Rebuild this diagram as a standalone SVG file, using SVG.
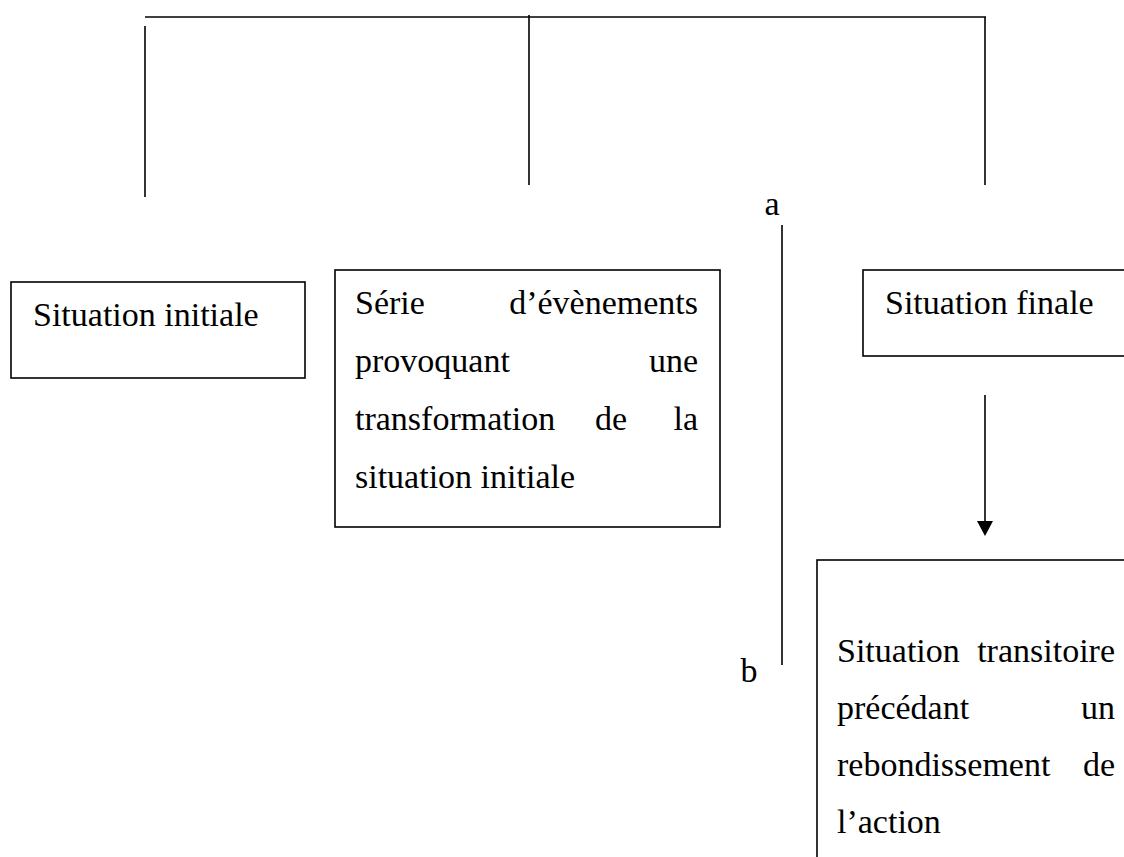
<svg xmlns="http://www.w3.org/2000/svg" width="1124" height="857" viewBox="0 0 1124 857">
  <style>
    .box { fill: #ffffff; stroke: #000000; stroke-width: 1.6; }
    .ln { stroke: #000000; stroke-width: 1.6; fill: none; }
    .t { font-family: "Liberation Serif", "Times New Roman", serif; font-size: 34px; fill: #000000; }
    .e { text-anchor: end; }
    .m { text-anchor: middle; }
  </style>
  <rect width="1124" height="857" fill="#ffffff"/>

  <g id="connectors">
    <!-- top bracket -->
    <line class="ln" x1="145" y1="17" x2="986" y2="17"/>
    <line class="ln" x1="145" y1="26" x2="145" y2="197"/>
    <line class="ln" x1="529" y1="15" x2="529" y2="185"/>
    <line class="ln" x1="985" y1="17" x2="985" y2="185"/>
    <!-- a-b span -->
    <line class="ln" x1="782" y1="225" x2="782" y2="665"/>
    <!-- arrow from final to transitory situation -->
    <line class="ln" x1="985" y1="395" x2="985" y2="524"/>
    <polygon points="977,521 993,521 985,536" fill="#000000"/>
  </g>

  <g id="label-a">
    <text class="t m" x="772" y="215">a</text>
  </g>
  <g id="label-b">
    <text class="t m" x="749" y="682">b</text>
  </g>

  <g id="node-initiale">
    <rect class="box" x="11" y="282" width="294" height="96"/>
    <text class="t" x="33" y="326">Situation initiale</text>
  </g>

  <g id="node-serie">
    <rect class="box" x="335" y="270" width="385" height="257"/>
    <text class="t" x="355" y="314">Série</text>
    <text class="t e" x="698" y="314">d’évènements</text>
    <text class="t" x="355" y="372">provoquant</text>
    <text class="t e" x="698" y="372">une</text>
    <text class="t" x="355" y="430">transformation</text>
    <text class="t" x="595" y="430">de</text>
    <text class="t e" x="698" y="430">la</text>
    <text class="t" x="355" y="488">situation initiale</text>
  </g>

  <g id="node-finale">
    <rect class="box" x="863" y="270" width="270" height="86"/>
    <text class="t" x="885" y="314">Situation finale</text>
  </g>

  <g id="node-transitoire">
    <rect class="box" x="817" y="560" width="320" height="310"/>
    <text class="t" x="837" y="662">Situation</text>
    <text class="t e" x="1115" y="662">transitoire</text>
    <text class="t" x="837" y="719">précédant</text>
    <text class="t e" x="1115" y="719">un</text>
    <text class="t" x="837" y="776">rebondissement</text>
    <text class="t e" x="1115" y="776">de</text>
    <text class="t" x="837" y="833">l’action</text>
  </g>
</svg>
